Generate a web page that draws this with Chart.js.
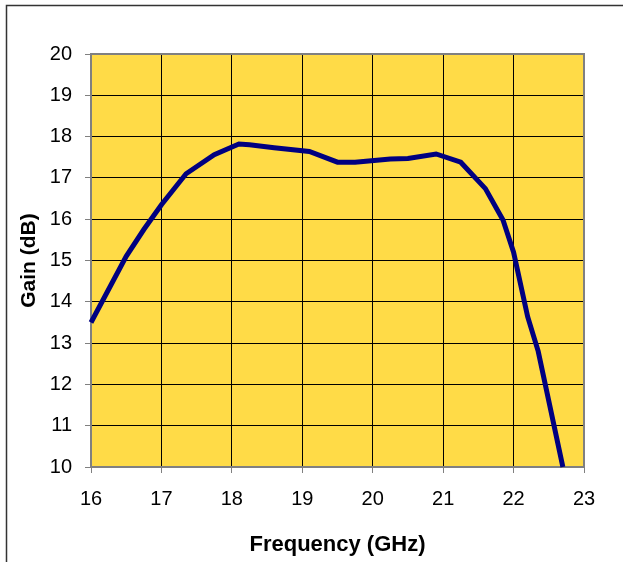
<!DOCTYPE html>
<html>
<head>
<meta charset="utf-8">
<script src="https://cdn.jsdelivr.net/npm/chart.js@4/dist/chart.umd.min.js"></script>
<style>
  html, body { margin: 0; padding: 0; background: #fff; }
  #wrap { width: 623px; height: 562px; position: relative; }
</style>
</head>
<body>
<div id="wrap"><canvas id="myChart" width="623" height="562"></canvas></div>
<script>
// gain curve
var freq = [16.0, 16.5, 16.75, 17.0, 17.35, 17.75, 18.1, 18.25, 18.6, 19.1, 19.5, 19.75, 20.25, 20.5, 20.9, 21.25, 21.6, 21.85, 22.0, 22.2, 22.35, 22.7];
var gain = [13.5, 15.1, 15.75, 16.35, 17.1, 17.56, 17.82, 17.8, 17.73, 17.64, 17.38, 17.38, 17.46, 17.47, 17.58, 17.38, 16.74, 15.98, 15.2, 13.64, 12.8, 10.0];
var xTicks = [16, 17, 18, 19, 20, 21, 22, 23];
var yTicks = [10, 11, 12, 13, 14, 15, 16, 17, 18, 19, 20];

var pts = freq.map(function (f, i) { return { x: f, y: gain[i] }; });

var framePlugin = {
    id: 'frame',
    beforeDraw: function (chart) {
        var c = chart.ctx, a = chart.chartArea;
        c.save();
        c.fillStyle = '#fff';
        c.fillRect(0, 0, chart.width, chart.height);
        // outer border (top + left only visible)
        c.strokeStyle = '#333';
        c.lineWidth = 1.5;
        c.beginPath();
        c.moveTo(6.5, chart.height);
        c.lineTo(6.5, 5.5);
        c.lineTo(chart.width, 5.5);
        c.stroke();
        c.fillStyle = '#FFDB47';
        c.fillRect(a.left, a.top, a.right - a.left, a.bottom - a.top);
        c.restore();
    },
    beforeDatasetsDraw: function (chart) {
        var c = chart.ctx, a = chart.chartArea;
        c.save();
        c.strokeStyle = '#808080';
        c.lineWidth = 2;
        c.strokeRect(a.left, a.top, a.right - a.left, a.bottom - a.top);
        c.restore();
    }
};

new Chart(document.getElementById('myChart'), {
    type: 'line',
    data: {
        datasets: [{
            data: pts,
            borderColor: '#000080',
            borderWidth: 5,
            pointRadius: 0,
            tension: 0,
            fill: false,
            clip: 3
        }]
    },
    options: {
        responsive: false,
        animation: false,
        layout: { padding: { left: 0, top: 54, right: 39, bottom: 0 } },
        plugins: { legend: { display: false }, tooltip: { enabled: false } },
        scales: {
            x: {
                type: 'linear',
                min: 16, max: 23,
                afterBuildTicks: function (s) { s.ticks = xTicks.map(function (v) { return { value: v }; }); },
                afterFit: function (s) { s.height = 95; },
                grid: { color: '#000', lineWidth: 1, tickLength: 6, tickColor: '#808080' },
                border: { color: '#808080', width: 2 },
                ticks: { color: '#000', font: { family: 'Liberation Sans', size: 20 }, padding: 14, maxRotation: 0 },
                title: { display: true, text: 'Frequency (GHz)', color: '#000', font: { family: 'Liberation Sans', size: 22, weight: 'bold' }, padding: { top: 8 } }
            },
            y: {
                type: 'linear',
                min: 10, max: 20,
                afterBuildTicks: function (s) { s.ticks = yTicks.map(function (v) { return { value: v }; }); },
                afterFit: function (s) { s.width = 91; },
                grid: { color: '#000', lineWidth: 1, tickLength: 6, tickColor: '#808080' },
                border: { color: '#808080', width: 2 },
                ticks: { color: '#000', font: { family: 'Liberation Sans', size: 20 }, padding: 13 },
                title: { display: true, text: 'Gain (dB)', color: '#000', font: { family: 'Liberation Sans', size: 21, weight: 'bold' }, padding: { top: 17 } }
            }
        }
    },
    plugins: [framePlugin]
});
</script>
</body>
</html>
